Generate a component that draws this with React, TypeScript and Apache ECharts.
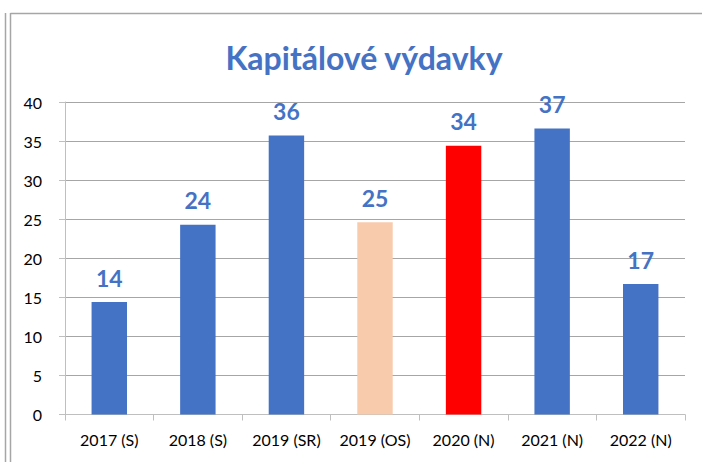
import React, { useEffect, useRef } from "react";
import * as echarts from "echarts";

const categories = ["2017 (S)", "2018 (S)", "2019 (SR)", "2019 (OS)", "2020 (N)", "2021 (N)", "2022 (N)"];
const values = [14.4, 24.3, 35.7, 24.6, 34.4, 36.6, 16.7];
const barColors = ["#4472C4", "#4472C4", "#4472C4", "#F8CBAD", "#FF0000", "#4472C4", "#4472C4"];
const titleText = "Kapitálové výdavky";

const FONT = "Lato, 'Open Sans', sans-serif";

export default function App() {
  const ref = useRef<HTMLDivElement>(null);
  useEffect(() => {
    if (!ref.current) return;
    const chart = echarts.init(ref.current, undefined, { renderer: "svg" });
    chart.setOption({
      animation: false,
      backgroundColor: "#ffffff",
      title: {
        text: titleText,
        left: 359,
        textAlign: "center",
        top: 36,
        textStyle: { color: "#4472C4", fontFamily: FONT, fontWeight: "bold", fontSize: 32 },
      },
      grid: { left: 65, right: 17, top: 102, bottom: 47.5, containLabel: false },
      xAxis: {
        type: "category",
        data: categories,
        axisLine: { lineStyle: { color: "#bfbfbf", width: 1 } },
        axisTick: { show: true, length: 6, lineStyle: { color: "#bfbfbf" } },
        axisLabel: { color: "#000", fontFamily: FONT, fontSize: 16, margin: 17, interval: 0, hideOverlap: false },
      },
      yAxis: {
        type: "value",
        min: 0,
        max: 40,
        interval: 5,
        axisLine: { show: true, lineStyle: { color: "#bfbfbf", width: 1 } },
        axisTick: { show: true, length: 6, lineStyle: { color: "#bfbfbf" } },
        axisLabel: { color: "#000", fontFamily: FONT, fontSize: 16, margin: 23 },
        splitLine: { lineStyle: { color: "#a6a6a6", width: 1 } },
      },
      series: [
        {
          type: "bar",
          barWidth: "40%",
          data: values.map((v, i) => ({ value: v, itemStyle: { color: barColors[i] } })),
          label: {
            show: true,
            position: "top",
            distance: 13,
            color: "#4472C4",
            fontFamily: FONT,
            fontWeight: "bold",
            fontSize: 23,
            formatter: (p: any) => String(Math.round(p.value)),
          },
        },
      ],
      graphic: [
        { type: "line", shape: { x1: 5.5, y1: 13, x2: 5.5, y2: 462 }, style: { stroke: "#a6a6a6", lineWidth: 1.5 } },
        { type: "line", shape: { x1: 10.5, y1: 13, x2: 10.5, y2: 462 }, style: { stroke: "#a6a6a6", lineWidth: 1.5 } },
        { type: "line", shape: { x1: 10.5, y1: 13.5, x2: 702, y2: 13.5 }, style: { stroke: "#a6a6a6", lineWidth: 1.5 } },
      ],
    });
    return () => chart.dispose();
  }, []);
  return <div ref={ref} style={{ position: "fixed", left: 0, top: 0, width: 702, height: 462 }} />;
}
